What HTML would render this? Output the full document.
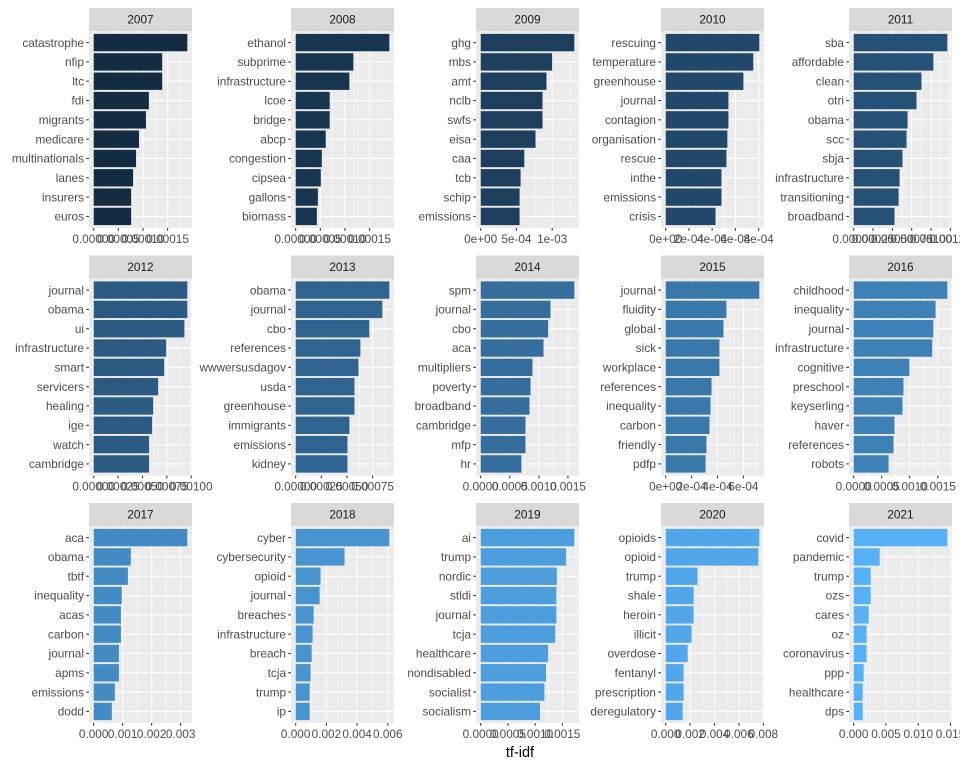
<!DOCTYPE html>
<html><head><meta charset="utf-8">
<style>
html,body{margin:0;padding:0;background:#fff;}
svg{display:block;font-family:"Liberation Sans",Arial,sans-serif;}
</style></head>
<body>
<svg id="chart" width="960" height="768" viewBox="0 0 960 768" xmlns="http://www.w3.org/2000/svg">
<text x="520" y="757" text-anchor="middle" font-size="14.5" fill="#000">tf-idf</text>
</svg>
<script>
const years = [2007,2008,2009,2010,2011,2012,2013,2014,2015,2016,2017,2018,2019,2020,2021];
const words2007 = ["catastrophe","nfip","ltc","fdi","migrants","medicare","multinationals","lanes","insurers","euros"];
const vals2007 = [0.000190,0.000139,0.000139,0.000112,0.000106,0.000092,0.000086,0.000080,0.000076,0.000076];
const words2008 = ["ethanol","subprime","infrastructure","lcoe","bridge","abcp","congestion","cipsea","gallons","biomass"];
const vals2008 = [0.000190,0.000117,0.000109,0.000069,0.000069,0.000061,0.000053,0.000051,0.000045,0.000043];
const words2009 = ["ghg","mbs","amt","nclb","swfs","eisa","caa","tcb","schip","emissions"];
const vals2009 = [0.00131,0.00100,0.00092,0.000865,0.000865,0.000767,0.00061,0.000558,0.000544,0.000544];
const words2010 = ["rescuing","temperature","greenhouse","journal","contagion","organisation","rescue","inthe","emissions","crisis"];
const vals2010 = [0.000806,0.000754,0.000669,0.000540,0.000540,0.000531,0.000523,0.000480,0.000480,0.000429];
const words2011 = ["sba","affordable","clean","otri","obama","scc","sbja","infrastructure","transitioning","broadband"];
const vals2011 = [0.00121,0.00103,0.000876,0.000812,0.000696,0.000683,0.000631,0.000593,0.000580,0.000528];
const words2012 = ["journal","obama","ui","infrastructure","smart","servicers","healing","ige","watch","cambridge"];
const vals2012 = [0.00096,0.00096,0.00093,0.000744,0.000723,0.000661,0.000610,0.000599,0.000568,0.000568];
const words2013 = ["obama","journal","cbo","references","wwwersusdagov","usda","greenhouse","immigrants","emissions","kidney"];
const vals2013 = [0.000913,0.000845,0.000718,0.000631,0.000612,0.000573,0.000573,0.000524,0.000505,0.000505];
const words2014 = ["spm","journal","cbo","aca","multipliers","poverty","broadband","cambridge","mfp","hr"];
const vals2014 = [0.00161,0.00120,0.00116,0.00108,0.00089,0.000856,0.000839,0.00077,0.00077,0.00070];
const words2015 = ["journal","fluidity","global","sick","workplace","references","inequality","carbon","friendly","pdfp"];
const vals2015 = [0.000723,0.000469,0.000446,0.000415,0.000415,0.000354,0.000346,0.000338,0.000315,0.000308];
const words2016 = ["childhood","inequality","journal","infrastructure","cognitive","preschool","keyserling","haver","references","robots"];
const vals2016 = [0.00167,0.00146,0.00142,0.00140,0.000995,0.000888,0.00087,0.000728,0.00071,0.000622];
const words2017 = ["aca","obama","tbtf","inequality","acas","carbon","journal","apms","emissions","dodd"];
const vals2017 = [0.00323,0.00128,0.00118,0.00097,0.00094,0.00094,0.00087,0.00087,0.00073,0.000625];
const words2018 = ["cyber","cybersecurity","opioid","journal","breaches","infrastructure","breach","tcja","trump","ip"];
const vals2018 = [0.0061,0.00318,0.00162,0.00156,0.00117,0.00110,0.00104,0.00097,0.00091,0.00091];
const words2019 = ["ai","trump","nordic","stldi","journal","tcja","healthcare","nondisabled","socialist","socialism"];
const vals2019 = [0.00172,0.00157,0.00140,0.00139,0.00139,0.00137,0.00124,0.00120,0.00117,0.00109];
const words2020 = ["opioids","opioid","trump","shale","heroin","illicit","overdose","fentanyl","prescription","deregulatory"];
const vals2020 = [0.00767,0.00759,0.00261,0.00229,0.00229,0.00212,0.00180,0.00147,0.00147,0.00139];
const words2021 = ["covid","pandemic","trump","ozs","cares","oz","coronavirus","ppp","healthcare","dps"];
const vals2021 = [0.0145,0.00402,0.00263,0.00263,0.00232,0.0020,0.0020,0.00155,0.00139,0.00139];
const tickVals1 = [0,0.00005,0.0001,0.00015];
const tickLabs1 = ["0.00000","0.00005","0.00010","0.00015"];
const tickVals2 = [0,0.0005,0.001];
const tickLabs2 = ["0e+00","5e-04","1e-03"];
const tickVals3 = [0,0.0002,0.0004,0.0006,0.0008];
const tickLabs3 = ["0e+00","2e-04","4e-04","6e-04","8e-04"];
const tickVals4 = [0,0.00025,0.0005,0.00075,0.001,0.00125];
const tickLabs4 = ["0.00000","0.00025","0.00050","0.00075","0.00100","0.00125"];
const tickVals5 = [0,0.0005,0.001,0.0015];
const tickLabs5 = ["0.0000","0.0005","0.0010","0.0015"];
const tickVals6 = [0,0.0002,0.0004,0.0006];
const tickLabs6 = ["0e+00","2e-04","4e-04","6e-04"];
const tickVals7 = [0,0.001,0.002,0.003];
const tickLabs7 = ["0.000","0.001","0.002","0.003"];
const tickVals8 = [0,0.002,0.004,0.006];
const tickLabs8 = ["0.000","0.002","0.004","0.006"];
const tickVals9 = [0,0.002,0.004,0.006,0.008];
const tickLabs9 = ["0.000","0.002","0.004","0.006","0.008"];
const tickVals10 = [0,0.005,0.01,0.015];
const tickLabs10 = ["0.000","0.005","0.010","0.015"];

const panels = [
 [words2007,vals2007,tickVals1,tickLabs1],[words2008,vals2008,tickVals1,tickLabs1],[words2009,vals2009,tickVals2,tickLabs2],[words2010,vals2010,tickVals3,tickLabs3],[words2011,vals2011,tickVals4,tickLabs4],
 [words2012,vals2012,tickVals4,tickLabs4],[words2013,vals2013,tickVals4.slice(0,4),tickLabs4.slice(0,4)],[words2014,vals2014,tickVals5,tickLabs5],[words2015,vals2015,tickVals6,tickLabs6],[words2016,vals2016,tickVals5,tickLabs5],
 [words2017,vals2017,tickVals7,tickLabs7],[words2018,vals2018,tickVals8,tickLabs8],[words2019,vals2019,tickVals5,tickLabs5],[words2020,vals2020,tickVals9,tickLabs9],[words2021,vals2021,tickVals10,tickLabs10]
];
const NS="http://www.w3.org/2000/svg";
const svg=document.getElementById('chart');
const colLeft=[89,291,476,661,849], rowTop=[31,278.5,526], W=103, H=197, STRIP=23;
function mk(tag,attrs,parent){const e=document.createElementNS(NS,tag);for(const k in attrs)e.setAttribute(k,attrs[k]);(parent||svg).appendChild(e);return e;}
function lerp(a,b,t){return Math.round(a+(b-a)*t);}
function fillFor(i){const t=i/14;return `rgb(${lerp(19,86,t)},${lerp(43,177,t)},${lerp(67,247,t)})`;}
panels.forEach((p,i)=>{
  const [words,vals,tv,tl]=p;
  const x0=colLeft[i%5], y0=rowTop[Math.floor(i/5)];
  const max=Math.max(...vals);
  const xs=v=>x0+(v+0.05*max)/(1.1*max)*W;
  const step=H/10.2;
  const ys=k=>y0+(0.6+k)*step;
  const g=mk('g',{});
  
  
  const st=mk('rect',{x:x0,y:y0-STRIP,width:W,height:STRIP,fill:'#D9D9D9'},g);
  
  
  const stt=mk('text',{x:x0+W/2,y:y0-STRIP/2+4.2,'text-anchor':'middle','font-size':'11.8',fill:'#1A1A1A'},g);
  stt.textContent=years[i];
  
  
  const bg=mk('rect',{x:x0,y:y0,width:W,height:H,fill:'#EBEBEB'},g);
  
  
  const dmax=1.05*max;
  for(let k=0;k<tv.length;k++){
    const st2=tv.length>1?tv[1]-tv[0]:max;
    const m=tv[k]+st2/2;
    if(m<dmax){const x=xs(m);mk('line',{x1:x,x2:x,y1:y0,y2:y0+H,stroke:'#fff','stroke-width':0.55},g);}
  }
  tv.forEach((v,k)=>{
    if(v>dmax)return;
    const x=xs(v);
    mk('line',{x1:x,x2:x,y1:y0,y2:y0+H,stroke:'#fff','stroke-width':1.07},g);
    mk('line',{x1:x,x2:x,y1:y0+H,y2:y0+H+2.75,stroke:'#333','stroke-width':1.07},g);
    const t=mk('text',{x:x,y:y0+H+15,'text-anchor':'middle','font-size':'11.8',fill:'#4D4D4D'},g);
    t.textContent=tl[k];
    
    
  });
  words.forEach((w,k)=>{
    const y=ys(k);
    mk('line',{x1:x0,x2:x0+W,y1:y,y2:y,stroke:'#fff','stroke-width':1.07},g);
  });
  words.forEach((w,k)=>{
    const y=ys(k);
    const b=mk('rect',{x:xs(0),y:y-step*0.45,width:xs(vals[k])-xs(0),height:step*0.9,fill:fillFor(i)},g);
    
    
    mk('line',{x1:x0-2.75,x2:x0,y1:y,y2:y,stroke:'#333','stroke-width':1.07},g);
    const t=mk('text',{x:x0-5,y:y+4.2,'text-anchor':'end','font-size':'11.8',fill:'#4D4D4D'},g);
    t.textContent=w;
    
    
  });
});
</script>
</body></html>
